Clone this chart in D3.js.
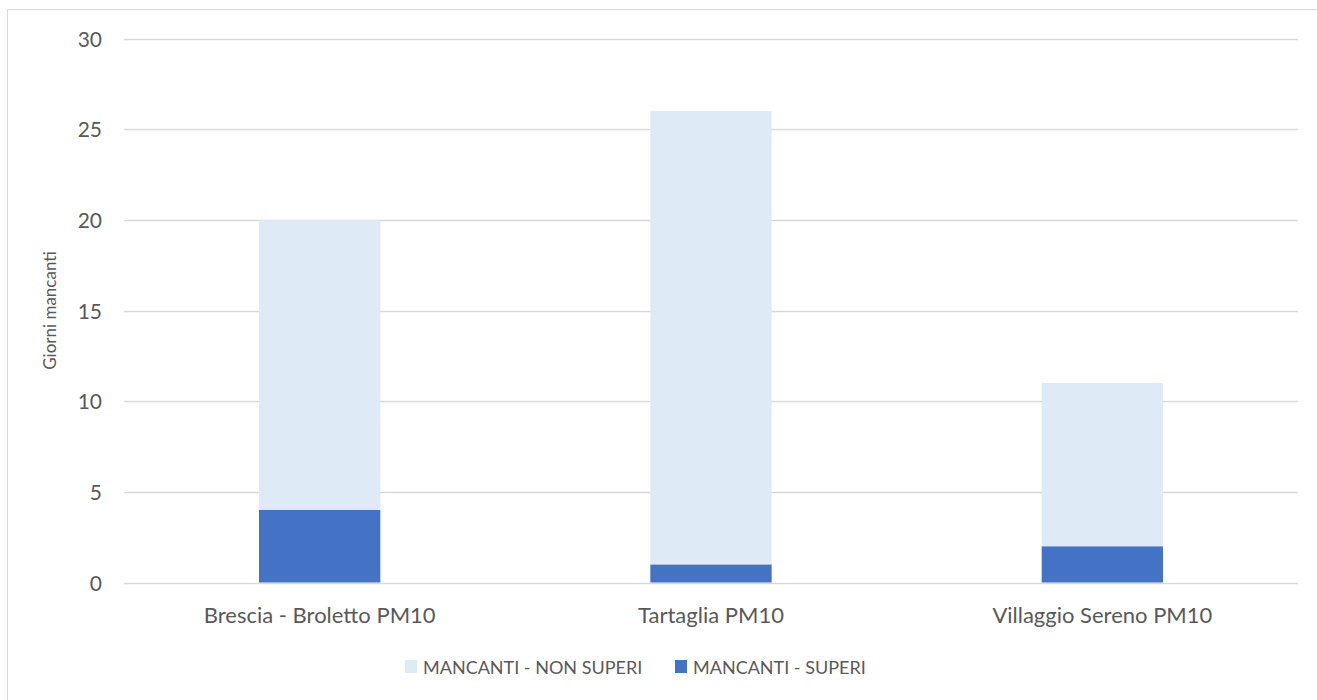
<!DOCTYPE html>
<html>
<head>
<meta charset="utf-8">
<script src="https://cdn.jsdelivr.net/npm/d3@7"></script>
<style>
  html, body { margin: 0; padding: 0; background: #fff; }
  svg { display: block; }
  svg text { font-family: Lato, "Open Sans", sans-serif; fill: #595959; }
</style>
</head>
<body>
<svg id="chart" width="1317" height="700"></svg>
<script>
// Stations and missing-day counts, split by exceedance status
const categories = ["Brescia - Broletto PM10", "Tartaglia PM10", "Villaggio Sereno PM10"];
const mancantiSuperi = [4, 1, 2];
const mancantiNonSuperi = [16, 25, 9];
const seriesNames = ["MANCANTI - NON SUPERI", "MANCANTI - SUPERI"];
const yTicks = [0, 5, 10, 15, 20, 25, 30];
const yTitle = "Giorni mancanti";

const colors = { "MANCANTI - SUPERI": "#4472C4", "MANCANTI - NON SUPERI": "#DEEAF6" };

const svg = d3.select("#chart");
const W = 1317, H = 700;

// outer chart border
svg.append("rect").attr("x", 7.5).attr("y", 9.5).attr("width", W + 10).attr("height", H + 10)
  .attr("fill", "none").attr("stroke", "#D9D9D9").attr("stroke-width", 1);

const plot = { left: 124, right: 1298, top: 38.5, bottom: 582.5 };

const x = d3.scaleBand().domain(categories).range([plot.left, plot.right]).paddingInner(0.69).paddingOuter(0.345);
const y = d3.scaleLinear().domain([0, 30]).range([plot.bottom, plot.top]);

// gridlines
svg.append("g").selectAll("line").data(yTicks).join("line")
  .attr("x1", plot.left).attr("x2", plot.right)
  .attr("y1", d => Math.round(y(d)) + 0.5).attr("y2", d => Math.round(y(d)) + 0.5)
  .attr("stroke", "#D9D9D9").attr("stroke-width", 1.3);

// y tick labels
const yAxis = d3.axisLeft(y).tickValues(yTicks).tickSize(0).tickPadding(0);
const gy = svg.append("g").attr("transform", `translate(${plot.left - 22},0)`).call(yAxis)
  .attr("font-size", null).attr("font-family", null);
gy.select(".domain").remove();
gy.selectAll("text").style("font-size", "21px").attr("dy", "0.36em");

// stacked data
const rows = categories.map((c, i) => ({
  cat: c,
  "MANCANTI - SUPERI": mancantiSuperi[i],
  "MANCANTI - NON SUPERI": mancantiNonSuperi[i]
}));
const stack = d3.stack().keys(["MANCANTI - SUPERI", "MANCANTI - NON SUPERI"]);
const layers = stack(rows);

svg.append("g").selectAll("g").data(layers).join("g")
  .attr("fill", d => colors[d.key])
  .selectAll("rect").data(d => d).join("rect")
  .attr("x", d => x(d.data.cat))
  .attr("width", x.bandwidth())
  .attr("y", d => y(d[1]))
  .attr("height", d => y(d[0]) - y(d[1]));

// x category labels
const xAxis = d3.axisBottom(x).tickSize(0).tickPadding(0);
const gx = svg.append("g").attr("transform", `translate(0,623)`).call(xAxis)
  .attr("font-size", null).attr("font-family", null);
gx.select(".domain").remove();
gx.selectAll("text").attr("dy", "0").style("font-size", "22px");

// y axis title
svg.append("text")
  .attr("transform", `translate(56,${(plot.top + plot.bottom) / 2}) rotate(-90)`)
  .attr("text-anchor", "middle")
  .style("font-size", "17px")
  .text(yTitle);

// legend
const legendItems = [
  { name: seriesNames[0], x: 405 },
  { name: seriesNames[1], x: 675 }
];
const lg = svg.append("g").selectAll("g").data(legendItems).join("g")
  .attr("transform", d => `translate(${d.x},660)`);
lg.append("rect").attr("width", 12).attr("height", 13).attr("fill", d => colors[d.name]);
lg.append("text").attr("x", 18).attr("y", 14).style("font-size", "18px").text(d => d.name);
</script>
</body>
</html>
